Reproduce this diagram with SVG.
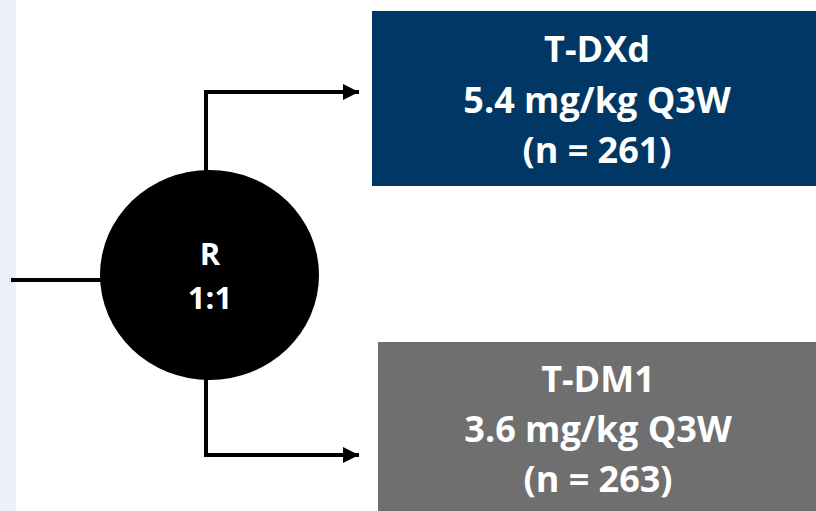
<svg xmlns="http://www.w3.org/2000/svg" width="816" height="511" viewBox="0 0 816 511">
  <style>
    .lbl { font-family: "Open Sans", "Liberation Sans", sans-serif; font-weight: bold; fill: #ffffff; text-anchor: middle; }
    .arm { font-size: 36px; }
    .rnd { font-size: 31px; }
    .wire { fill: none; stroke: #000000; stroke-width: 4; }
  </style>
  <defs>
    <marker id="head" viewBox="0 0 10 10" refX="10" refY="5" markerWidth="4" markerHeight="4" markerUnits="strokeWidth" orient="auto">
      <path d="M0,0 L10,5 L0,10 Z" fill="#000000"/>
    </marker>
  </defs>
  <rect x="0" y="0" width="816" height="511" fill="#ffffff"/>
  <rect x="0" y="0" width="16" height="511" fill="#ebf0fa"/>

  <g id="connectors">
    <path class="wire" d="M11,280 L102,280"/>
    <path class="wire" d="M206,172 L206,92 L359,92" marker-end="url(#head)"/>
    <path class="wire" d="M206,378 L206,455 L359,455" marker-end="url(#head)"/>
  </g>

  <g id="randomize">
    <ellipse cx="209.5" cy="275" rx="109.5" ry="105" fill="#000000"/>
    <text class="lbl rnd" x="210" y="265">R</text>
    <text class="lbl rnd" x="210" y="309">1:1</text>
  </g>

  <g id="tdxd">
    <rect x="372" y="11" width="444" height="175" fill="#003764"/>
    <text class="lbl arm" x="597" y="62">T-DXd</text>
    <text class="lbl arm" x="597" y="113">5.4 mg/kg Q3W</text>
    <text class="lbl arm" x="597" y="163">(n = 261)</text>
  </g>

  <g id="tdm1">
    <rect x="378" y="342" width="438" height="169" fill="#6f6f6f"/>
    <text class="lbl arm" x="598" y="392">T-DM1</text>
    <text class="lbl arm" x="598" y="442">3.6 mg/kg Q3W</text>
    <text class="lbl arm" x="598" y="492">(n = 263)</text>
  </g>
</svg>
